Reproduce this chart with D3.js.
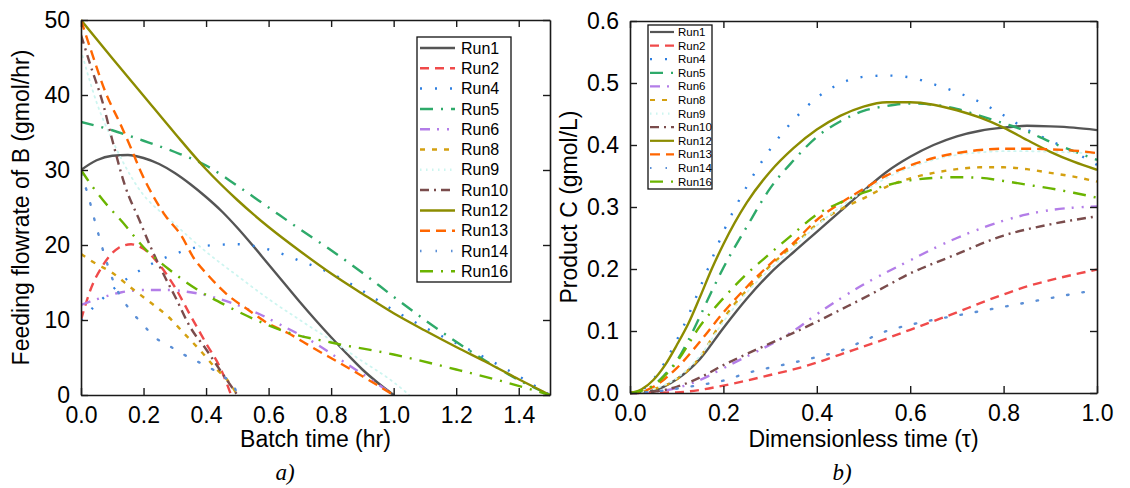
<!DOCTYPE html>
<html><head><meta charset="utf-8">
<script src="https://cdn.jsdelivr.net/npm/d3@7"></script>
<style>
html,body{margin:0;padding:0;background:#fff;}
svg{display:block;font-family:Arial,"Liberation Sans",sans-serif;}
</style></head>
<body><svg id="c" width="1130" height="488"></svg>
<script>
// ---------- Data ----------
const runNames = ["Run1","Run2","Run4","Run5","Run6","Run8","Run9","Run10","Run12","Run13","Run14","Run16"];
const runColors = ["#555555","#f04a4a","#2f7fe0","#2eaa6a","#b37de8","#d4a010","#cdf5f0","#7a4c4c","#8c8c00","#ff6600","#5b8fd6","#6ab400"];
const runDashes = [null,"9,6","2,13","13,8,2,8","10,7,2,8,2,7","5,7","1.5,4.5","9,5,2,5",null,"10,6","1.5,14","13,8,2,8"];

const xTicksA = [0,0.2,0.4,0.6,0.8,1.0,1.2,1.4];
const yTicksA = [0,10,20,30,40,50];
const xTicksB = [0,0.2,0.4,0.6,0.8,1.0];
const yTicksB = [0,0.1,0.2,0.3,0.4,0.5,0.6];

// Panel a: feeding flowrate of B vs batch time  [t (hr), F (gmol/hr)]
const feedRun1 = [[0,30],[0.05,31.3],[0.1,31.9],[0.15,32],[0.2,31.6],[0.25,30.8],[0.3,29.6],[0.35,28.1],[0.4,26.4],[0.45,24.5],[0.5,22.3],[0.55,19.9],[0.6,17.4],[0.65,14.9],[0.7,12.4],[0.75,10],[0.8,7.7],[0.85,5.5],[0.9,3.4],[0.95,1.6],[1.0,0]];
const feedRun2 = [[0,10],[0.03,14],[0.07,17.3],[0.12,19.6],[0.16,20.1],[0.2,19.5],[0.25,17.4],[0.3,14.4],[0.35,10.6],[0.4,6.9],[0.45,3.2],[0.48,0]];
const feedRun4 = [[0,10],[0.05,12.1],[0.1,14],[0.2,16.9],[0.3,18.8],[0.4,19.9],[0.5,20.1],[0.6,19.4],[0.7,17.9],[0.8,16.2],[0.9,13.9],[1.0,11.3],[1.1,9],[1.2,6.9],[1.3,4.8],[1.4,2.5],[1.5,0]];
const feedRun5 = [[0,36.4],[0.1,35.3],[0.2,33.9],[0.3,32.4],[0.4,30.6],[0.5,27.9],[0.6,25],[0.7,22.1],[0.8,19.3],[0.9,16.3],[1.0,13.1],[1.1,10],[1.2,7.1],[1.3,4.4],[1.4,2],[1.5,0]];
const feedRun6 = [[0,12],[0.06,12.9],[0.13,13.7],[0.2,14],[0.28,14],[0.35,13.7],[0.4,13.3],[0.5,12],[0.57,10.8],[0.65,9.1],[0.72,7.6],[0.83,4.7],[0.94,1.7],[1.0,0]];
const feedRun8 = [[0,18.8],[0.04,17.7],[0.1,16.3],[0.16,14.3],[0.22,12.4],[0.28,10.4],[0.33,8.2],[0.38,6],[0.43,3.6],[0.47,1.9],[0.5,0]];
const feedRun9 = [[0,46],[0.05,39],[0.1,34],[0.18,27.8],[0.3,22.8],[0.4,19.1],[0.5,15.9],[0.6,12.8],[0.7,10],[0.8,7.3],[0.9,4.5],[1.0,1.7],[1.05,0]];
const feedRun10 = [[0,48],[0.03,44],[0.07,38.9],[0.1,34],[0.14,28],[0.19,23],[0.22,20],[0.27,15.6],[0.3,13.2],[0.35,9],[0.4,6.1],[0.45,3],[0.5,0]];
const feedRun12 = [[0,50],[0.1,44.9],[0.2,39.9],[0.3,34.9],[0.4,30.1],[0.5,26],[0.6,22.4],[0.7,19.2],[0.8,16.2],[0.9,13.5],[1.0,10.9],[1.1,8.6],[1.2,6.4],[1.3,4.3],[1.4,2.1],[1.5,0]];
const feedRun13 = [[0,50],[0.03,46.2],[0.08,40.2],[0.125,36.2],[0.16,32.9],[0.19,29.9],[0.23,26.6],[0.27,23.9],[0.32,21.3],[0.36,18.3],[0.41,15.8],[0.47,13.3],[0.53,11.5],[0.6,9.5],[0.66,8.3],[0.75,6.1],[0.83,4.2],[0.9,2.5],[1.0,0]];
const feedRun14 = [[0,29.5],[0.02,27],[0.05,22.3],[0.08,18],[0.11,14.5],[0.14,12.3],[0.166,10.9],[0.2,9.3],[0.236,7.7],[0.28,6.6],[0.32,5.6],[0.36,4.7],[0.405,3.8],[0.45,2.6],[0.49,1.1],[0.5,0]];
const feedRun16 = [[0,30],[0.04,27.6],[0.07,26],[0.14,22.7],[0.2,19.7],[0.28,16.8],[0.37,14.1],[0.47,11.8],[0.56,10],[0.65,8.5],[0.8,7],[1.0,5.4],[1.2,3.4],[1.35,1.8],[1.5,0]];

// Panel b: product C vs dimensionless time  [tau, C (gmol/L)]
const prodRun1 = [[0,0],[0.05,0.004],[0.1,0.022],[0.15,0.055],[0.2,0.105],[0.25,0.152],[0.3,0.193],[0.35,0.227],[0.4,0.26],[0.45,0.293],[0.5,0.326],[0.55,0.357],[0.6,0.381],[0.65,0.4],[0.7,0.414],[0.75,0.423],[0.8,0.428],[0.85,0.431],[0.9,0.43],[0.95,0.428],[1.0,0.424]];
const prodRun2 = [[0,0],[0.1,0.001],[0.15,0.005],[0.2,0.012],[0.25,0.02],[0.3,0.029],[0.35,0.038],[0.4,0.049],[0.45,0.062],[0.5,0.075],[0.55,0.088],[0.6,0.102],[0.65,0.116],[0.7,0.13],[0.75,0.145],[0.8,0.159],[0.85,0.172],[0.9,0.182],[0.95,0.191],[1.0,0.199]];
const prodRun4 = [[0,0],[0.025,0.005],[0.05,0.022],[0.075,0.05],[0.1,0.085],[0.125,0.125],[0.15,0.17],[0.175,0.215],[0.2,0.26],[0.25,0.333],[0.3,0.393],[0.35,0.44],[0.4,0.476],[0.45,0.499],[0.5,0.51],[0.55,0.512],[0.6,0.509],[0.65,0.498],[0.7,0.485],[0.75,0.469],[0.8,0.448],[0.85,0.425],[0.9,0.407],[0.95,0.389],[1.0,0.368]];
const prodRun5 = [[0,0],[0.025,0.003],[0.05,0.012],[0.075,0.03],[0.1,0.052],[0.125,0.085],[0.15,0.124],[0.175,0.164],[0.2,0.202],[0.25,0.268],[0.3,0.33],[0.35,0.375],[0.4,0.413],[0.45,0.438],[0.5,0.455],[0.55,0.463],[0.6,0.467],[0.65,0.465],[0.7,0.458],[0.75,0.447],[0.8,0.435],[0.85,0.422],[0.9,0.405],[0.95,0.39],[1.0,0.376]];
const prodRun6 = [[0,0],[0.05,0.002],[0.1,0.008],[0.15,0.021],[0.2,0.04],[0.25,0.059],[0.3,0.078],[0.35,0.1],[0.4,0.127],[0.45,0.152],[0.5,0.175],[0.55,0.195],[0.6,0.214],[0.65,0.233],[0.7,0.25],[0.75,0.265],[0.8,0.278],[0.85,0.288],[0.9,0.295],[0.95,0.299],[1.0,0.301]];
const prodRun8 = [[0,0],[0.05,0.006],[0.1,0.022],[0.15,0.058],[0.2,0.12],[0.25,0.166],[0.3,0.205],[0.35,0.238],[0.4,0.272],[0.45,0.296],[0.5,0.314],[0.55,0.333],[0.6,0.346],[0.65,0.355],[0.7,0.361],[0.75,0.364],[0.8,0.364],[0.85,0.361],[0.9,0.355],[0.95,0.349],[1.0,0.341]];
const prodRun9 = [[0,0],[0.05,0.006],[0.1,0.024],[0.15,0.06],[0.2,0.115],[0.25,0.162],[0.3,0.2],[0.35,0.235],[0.4,0.27],[0.45,0.3],[0.5,0.325],[0.55,0.347],[0.6,0.364],[0.65,0.376],[0.7,0.384],[0.75,0.388],[0.8,0.39],[0.85,0.39],[0.9,0.389],[0.95,0.388],[1.0,0.386]];
const prodRun10 = [[0,0],[0.05,0.002],[0.1,0.01],[0.15,0.025],[0.2,0.045],[0.25,0.063],[0.3,0.08],[0.35,0.097],[0.4,0.115],[0.45,0.134],[0.5,0.153],[0.55,0.173],[0.6,0.193],[0.65,0.209],[0.7,0.224],[0.75,0.24],[0.8,0.254],[0.85,0.264],[0.9,0.272],[0.95,0.279],[1.0,0.285]];
const prodRun12 = [[0,0],[0.025,0.006],[0.05,0.021],[0.075,0.045],[0.1,0.077],[0.125,0.112],[0.15,0.155],[0.175,0.2],[0.2,0.24],[0.25,0.307],[0.3,0.357],[0.35,0.395],[0.4,0.425],[0.45,0.447],[0.5,0.462],[0.55,0.469],[0.6,0.469],[0.65,0.465],[0.7,0.456],[0.75,0.444],[0.8,0.428],[0.85,0.408],[0.9,0.389],[0.95,0.373],[1.0,0.36]];
const prodRun13 = [[0,0],[0.025,0.002],[0.05,0.01],[0.075,0.023],[0.1,0.04],[0.15,0.083],[0.2,0.13],[0.25,0.171],[0.3,0.208],[0.35,0.242],[0.4,0.279],[0.45,0.306],[0.5,0.329],[0.55,0.351],[0.6,0.367],[0.65,0.379],[0.7,0.387],[0.75,0.392],[0.8,0.394],[0.85,0.394],[0.9,0.393],[0.95,0.391],[1.0,0.387]];
const prodRun14 = [[0,0],[0.05,0.002],[0.1,0.007],[0.15,0.013],[0.2,0.02],[0.25,0.032],[0.3,0.041],[0.35,0.049],[0.4,0.058],[0.45,0.068],[0.5,0.084],[0.55,0.1],[0.6,0.11],[0.65,0.118],[0.7,0.125],[0.75,0.132],[0.8,0.139],[0.85,0.146],[0.9,0.153],[0.95,0.16],[1.0,0.166]];
const prodRun16 = [[0,0],[0.05,0.012],[0.1,0.05],[0.15,0.108],[0.2,0.153],[0.25,0.192],[0.3,0.225],[0.35,0.257],[0.4,0.288],[0.45,0.307],[0.5,0.323],[0.55,0.335],[0.6,0.343],[0.65,0.347],[0.7,0.348],[0.75,0.347],[0.8,0.342],[0.85,0.336],[0.9,0.33],[0.95,0.323],[1.0,0.315]];

const feedSeries = [feedRun1,feedRun2,feedRun4,feedRun5,feedRun6,feedRun8,feedRun9,feedRun10,feedRun12,feedRun13,feedRun14,feedRun16];
const prodSeries = [prodRun1,prodRun2,prodRun4,prodRun5,prodRun6,prodRun8,prodRun9,prodRun10,prodRun12,prodRun13,prodRun14,prodRun16];

// ---------- Drawing ----------
const svg = d3.select("#c");
const FONT = 23;

function panel(cfg){
  const g = svg.append("g");
  const x = d3.scaleLinear().domain(cfg.xd).range([cfg.x0, cfg.x1]);
  const y = d3.scaleLinear().domain(cfg.yd).range([cfg.y1, cfg.y0]);
  const clipId = "clip"+cfg.id;
  svg.append("clipPath").attr("id",clipId).append("rect")
    .attr("x",cfg.x0).attr("y",cfg.y0-2).attr("width",cfg.x1-cfg.x0).attr("height",cfg.y1-cfg.y0+4);

  const line = d3.line().x(d=>x(d[0])).y(d=>y(d[1])).curve(d3.curveMonotoneX);
  const lg = g.append("g").attr("clip-path",`url(#${clipId})`);
  cfg.series.forEach((s,i)=>{
    lg.append("path").attr("d",line(s)).attr("fill","none")
      .attr("stroke",runColors[i]).attr("stroke-width",i===6?1.8:2.4)
      .attr("stroke-dasharray",runDashes[i])
      .attr("stroke-linecap", runDashes[i] && runDashes[i].startsWith("1.5")? "round":"butt");
  });

  const tl = 7;
  const axB = d3.axisBottom(x).tickValues(cfg.xt).tickFormat(cfg.xf).tickSizeInner(-tl).tickSizeOuter(0).tickPadding(12);
  const axT = d3.axisTop(x).tickValues(cfg.xt).tickFormat("").tickSizeInner(-tl).tickSizeOuter(0);
  const axL = d3.axisLeft(y).tickValues(cfg.yt).tickFormat(cfg.yf).tickSizeInner(-tl).tickSizeOuter(0).tickPadding(cfg.ypad);
  const axR = d3.axisRight(y).tickValues(cfg.yt).tickFormat("").tickSizeInner(-tl).tickSizeOuter(0);
  const gb = g.append("g").attr("transform",`translate(0,${cfg.y1})`).call(axB);
  const gt = g.append("g").attr("transform",`translate(0,${cfg.y0})`).call(axT);
  const gl = g.append("g").attr("transform",`translate(${cfg.x0},0)`).call(axL);
  const gr = g.append("g").attr("transform",`translate(${cfg.x1},0)`).call(axR);
  [gb,gt,gl,gr].forEach(a=>{
    a.select(".domain").attr("stroke","#1a1a1a").attr("stroke-width",1.6);
    a.selectAll(".tick line").attr("stroke","#1a1a1a").attr("stroke-width",1.4);
    a.selectAll("text").attr("font-size",FONT).attr("font-family","Arial, 'Liberation Sans', sans-serif").attr("fill","#000");
  });
  gb.selectAll(".tick text").attr("dy","0.71em");

  // axis titles
  g.append("text").attr("x",(cfg.x0+cfg.x1)/2+cfg.xtOff).attr("y",447).attr("text-anchor","middle")
    .attr("font-size",FONT).text(cfg.xtitle);
  g.append("text").attr("transform",`translate(${cfg.ytx},${(cfg.y0+cfg.y1)/2}) rotate(-90)`)
    .attr("text-anchor","middle").attr("font-size",FONT).text(cfg.ytitle);
  g.append("text").attr("x",cfg.labX).attr("y",480).attr("text-anchor","middle")
    .attr("font-family","'Liberation Serif','DejaVu Serif',serif").attr("font-style","italic")
    .attr("font-size",23).text(cfg.lab);

  // legend
  const L = cfg.leg;
  const lgG = g.append("g");
  lgG.append("rect").attr("x",L.x).attr("y",L.y).attr("width",L.w).attr("height",L.h)
    .attr("fill","#fff").attr("stroke","#111").attr("stroke-width",1.3);
  runNames.forEach((n,i)=>{
    const yy = L.r0 + i*L.dy;
    lgG.append("line").attr("x1",L.s0).attr("x2",L.s1).attr("y1",yy).attr("y2",yy)
      .attr("stroke",runColors[i]).attr("stroke-width",L.sw).attr("stroke-dasharray",runDashes[i]);
    lgG.append("text").attr("x",L.tx).attr("y",yy).attr("dy","0.35em").attr("font-size",L.fs).text(n);
  });
}

panel({id:"a", xd:[0,1.5], yd:[0,50], x0:81, x1:550, y0:20, y1:395,
  series:feedSeries, xt:xTicksA, yt:yTicksA, xf:d3.format(".1f"), yf:d3.format("d"), ypad:11,
  xtitle:"Batch time (hr)", xtOff:0, ytitle:"Feeding flowrate of B (gmol/hr)", ytx:29,
  lab:"a)", labX:285,
  leg:{x:417,y:37,w:94,h:245,r0:48,dy:20.3,s0:420,s1:455,tx:461,fs:16,sw:2.5}});

panel({id:"b", xd:[0,1], yd:[0,0.6], x0:630, x1:1097, y0:21, y1:393,
  series:prodSeries, xt:xTicksB, yt:yTicksB, xf:d3.format(".1f"), yf:d3.format(".1f"), ypad:11,
  xtitle:"Dimensionless time (\u03c4)", xtOff:0, ytitle:"Product C (gmol/L)", ytx:577,
  lab:"b)", labX:842,
  leg:{x:648,y:25,w:64,h:164,r0:32,dy:13.6,s0:650,s1:674,tx:678,fs:11.5,sw:2.2}});
</script></body></html>
